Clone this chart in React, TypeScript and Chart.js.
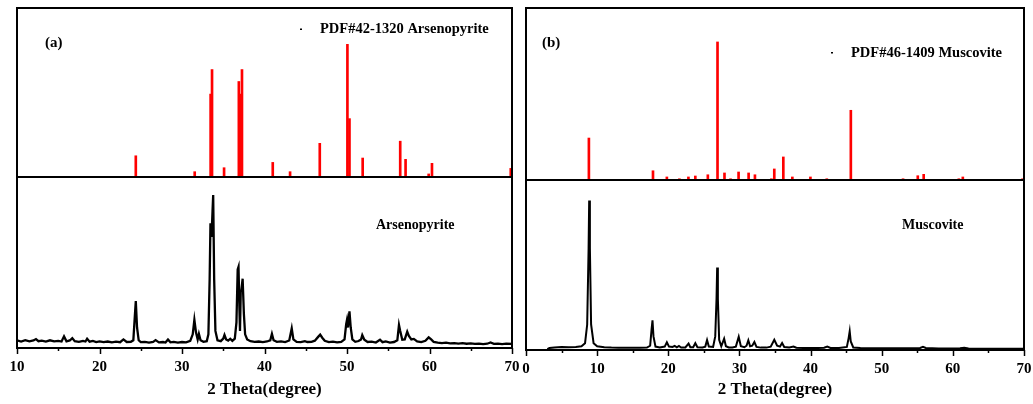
import React, { useEffect, useRef } from "react";
import { Chart, registerables } from "chart.js";
Chart.register(...registerables);

const FONT = '"Liberation Serif", "Times New Roman", serif';

// ---------- Panel (a): Arsenopyrite ----------
const arsenoPdfAngles = [24.4, 31.54, 33.47, 33.64, 35.1, 36.89, 37.1, 37.27, 41.0, 43.1, 46.7, 50.05, 50.3, 51.9, 56.45, 57.1, 59.9, 60.3, 69.85];
const arsenoPdfIntensity = [16, 4, 62.5, 81, 7, 72, 62.5, 81, 11, 4, 25.4, 100, 44, 14.3, 27, 13.3, 2.3, 10.3, 6.5];

const arsenoAngles = [
  10.0, 10.5, 11.0, 11.5, 12.0, 12.3, 12.6, 13.0, 13.5, 14.0, 14.5, 15.0, 15.4, 15.7, 16.0, 16.4, 16.7, 17.0, 17.5, 18.0,
  18.3, 18.5, 18.8, 19.2, 19.6, 20.0, 20.5, 21.0, 21.5, 22.0, 22.5, 22.9, 23.3, 23.8, 24.1, 24.3, 24.4, 24.55, 24.75, 25.0,
  25.5, 26.0, 26.5, 26.8, 27.2, 27.7, 28.0, 28.3, 28.6, 29.0, 29.5, 30.0, 30.5, 31.0, 31.3, 31.5, 31.7, 31.9, 32.05, 32.25,
  32.6, 33.0, 33.2, 33.35, 33.45, 33.58, 33.7, 33.78, 33.9, 34.05, 34.3, 34.7, 35.0, 35.15, 35.35, 35.6, 35.85, 36.1, 36.4, 36.6,
  36.75, 36.85, 36.95, 37.03, 37.12, 37.2, 37.35, 37.5, 37.65, 37.9, 38.3, 38.8, 39.3, 39.8, 40.3, 40.7, 40.9, 41.1, 41.5, 42.0,
  42.5, 43.0, 43.3, 43.5, 43.9, 44.4, 44.9, 45.2, 45.7, 46.1, 46.5, 46.75, 47.0, 47.3, 47.8, 48.3, 48.8, 49.3, 49.7, 49.9,
  50.0, 50.12, 50.3, 50.45, 50.65, 51.0, 51.4, 51.7, 51.85, 52.1, 52.5, 53.0, 53.5, 54.0, 54.3, 54.7, 55.2, 55.7, 56.1, 56.3,
  56.45, 56.7, 57.0, 57.3, 57.5, 57.8, 58.1, 58.5, 59.0, 59.5, 59.9, 60.2, 60.5, 61.0, 61.5, 62.0, 62.5, 63.0, 63.5, 64.0,
  64.5, 65.0, 65.5, 66.0, 66.5, 67.0, 67.4, 67.8, 68.3, 68.8, 69.3, 70.0,
];
const arsenoIntensity = [
  4.5, 3.8, 4.6, 3.9, 4.4, 5.2, 4.0, 4.3, 3.7, 4.5, 3.9, 4.2, 3.8, 6.8, 3.9, 4.4, 5.8, 4.0, 3.6, 4.2,
  3.8, 5.4, 3.7, 4.1, 3.5, 3.9, 3.4, 3.8, 3.3, 3.7, 3.4, 5.0, 3.5, 3.6, 4.5, 20, 27.5, 12, 4.5, 3.4,
  3.6, 3.2, 3.6, 4.6, 3.3, 3.5, 3.2, 5.0, 3.3, 3.6, 3.2, 3.5, 3.3, 4.2, 8, 16.5, 9, 5, 8.2, 4.5,
  3.6, 4.0, 8, 40, 73, 65, 80, 89.5, 40, 10, 4.5, 4.0, 5.5, 7.6, 5.0, 4.3, 5.4, 4.2, 5.5, 15,
  46, 47.5, 25, 10, 33, 34, 40.5, 20, 8, 5, 4.0, 3.6, 3.8, 3.4, 3.8, 4.5, 8.3, 4.5, 3.6, 3.9,
  3.5, 4.4, 11.5, 5, 3.6, 3.4, 4.0, 3.5, 3.6, 4.3, 6.5, 7.8, 6.0, 4.2, 3.4, 3.7, 3.3, 3.6, 5, 14,
  16.5, 12, 21.5, 12, 5, 3.6, 4.1, 5, 7.5, 4.8, 3.5, 3.7, 3.2, 4.8, 3.4, 3.9, 3.2, 3.5, 4.5, 13.5,
  10, 4.8, 5.0, 9.5, 7, 5, 5.3, 3.8, 3.4, 4.2, 6.2, 5.0, 3.6, 3.2, 2.9, 3.1, 2.7, 2.9, 2.6, 2.8,
  2.5, 2.7, 2.4, 2.6, 2.3, 2.5, 3.2, 2.4, 2.6, 2.3, 2.5, 2.4,
];

// ---------- Panel (b): Muscovite ----------
const muscoPdfAngles = [8.84, 17.85, 19.8, 21.56, 22.83, 23.8, 25.56, 26.92, 27.9, 28.75, 29.88, 31.29, 32.18, 34.49, 34.9, 36.17, 37.44, 39.98, 42.28, 45.66, 53.0, 55.07, 55.9, 60.84, 61.4, 69.8];
const muscoPdfIntensity = [30.4, 6.7, 2.2, 0.9, 2.2, 2.9, 3.8, 100, 5.1, 0.9, 5.8, 5.1, 3.8, 0.9, 8, 16.7, 2.2, 2.2, 0.9, 50.5, 0.9, 3.1, 4.1, 0.9, 2.2, 0.9];

const muscoAngles = [
  3.0, 3.3, 4.0, 5.0, 6.0, 7.0, 7.8, 8.3, 8.6, 8.8, 8.88, 8.98, 9.15, 9.5, 10.0, 11.0, 12.0, 13.0, 14.0, 15.0,
  16.0, 17.0, 17.45, 17.65, 17.78, 17.92, 18.2, 18.8, 19.5, 19.8, 20.1, 20.6, 20.9, 21.2, 21.5, 21.8, 22.4, 22.85, 23.1, 23.5,
  23.8, 24.1, 24.8, 25.2, 25.45, 25.7, 26.3, 26.6, 26.78, 26.87, 26.97, 27.15, 27.45, 27.85, 28.1, 28.5, 29.0, 29.5, 29.9, 30.2,
  30.7, 31.0, 31.25, 31.5, 31.8, 32.1, 32.4, 33.0, 33.8, 34.4, 34.9, 35.3, 35.7, 36.0, 36.3, 37.0, 37.6, 38.0, 39.0, 40.0,
  41.0, 41.9, 42.35, 42.8, 44.0, 45.1, 45.35, 45.5, 45.65, 46.0, 47.0, 48.0, 50.0, 52.0, 54.0, 55.4, 55.8, 56.2, 58.0, 60.0,
  61.0, 61.6, 62.2, 64.0, 66.0, 68.0, 70.0,
];
const muscoIntensity = [
  0.5, 1.2, 1.5, 1.7, 1.6, 1.8, 2.2, 4, 15, 60, 88, 60, 15, 4, 2.2, 1.6, 1.4, 1.3, 1.3, 1.3,
  1.3, 1.4, 2.5, 12, 17.5, 8, 2, 1.5, 2, 4.5, 2, 1.8, 2.4, 1.6, 2.4, 1.5, 1.5, 3.8, 1.6, 1.6,
  4.0, 1.6, 1.5, 2, 5.8, 2, 1.8, 8, 30, 48.5, 30, 6, 2.2, 6.7, 2.2, 1.5, 1.5, 2, 7.8, 2.2,
  1.6, 2.5, 5.7, 2.2, 2.5, 4.7, 1.8, 1.4, 1.4, 2.0, 6.0, 2.6, 2.0, 4.1, 1.8, 1.5, 2.0, 1.3, 1.2, 1.2,
  1.2, 1.3, 2.0, 1.2, 1.2, 1.8, 7, 11, 5, 1.5, 1.2, 1.1, 1.0, 1.0, 1.0, 1.2, 1.9, 1.2, 0.9, 0.9,
  1.1, 1.3, 0.9, 0.8, 0.8, 0.8, 0.8,
];

type TextItem = { text: string; x: number; y: number; size: number };

const decorPlugin = {
  id: "decor",
  afterDraw(chart: any, _args: any, opts: any) {
    const ctx = chart.ctx;
    const { left, right, top, bottom } = chart.chartArea;
    ctx.save();
    ctx.strokeStyle = "#000";
    ctx.lineWidth = 2;
    ctx.strokeRect(left, top, right - left, bottom - top);
    if (opts.ticks) {
      const xs = chart.scales.x;
      ctx.lineWidth = 1.5;
      xs.ticks.forEach((t: any) => {
        const px = Math.round(xs.getPixelForValue(t.value)) + 0.5;
        const len = t.value % 10 === 0 ? 6 : 3;
        ctx.beginPath();
        ctx.moveTo(px, bottom);
        ctx.lineTo(px, bottom + len);
        ctx.stroke();
      });
    }
    if (opts.marker) {
      ctx.fillStyle = "#000";
      ctx.fillRect(opts.marker.x, opts.marker.y, 2, 1.5);
    }
    (opts.texts || []).forEach((t: TextItem) => {
      ctx.fillStyle = "#000";
      ctx.font = `bold ${t.size}px ${FONT}`;
      ctx.textAlign = "left";
      ctx.textBaseline = "middle";
      ctx.fillText(t.text, t.x, t.y);
    });
    ctx.restore();
  },
};

function topConfig(angles: number[], intens: number[], xMin: number, xMax: number, yMax: number, padding: any, decor: any) {
  return {
    type: "bar",
    data: {
      datasets: [
        {
          data: angles.map((a, i) => ({ x: a, y: intens[i] })),
          backgroundColor: "#ff0000",
          borderWidth: 0,
          barThickness: 2,
        },
      ],
    },
    options: {
      animation: false,
      responsive: false,
      layout: { padding },
      scales: {
        x: { type: "linear", min: xMin, max: xMax, display: false, offset: false },
        y: { min: 0, max: yMax, display: false },
      },
      plugins: { legend: { display: false }, tooltip: { enabled: false }, decor },
    },
    plugins: [decorPlugin],
  };
}

function bottomConfig(angles: number[], intens: number[], xMin: number, xMax: number, axisHeight: number, padding: any, lineWidth: number, decor: any) {
  return {
    type: "line",
    data: {
      datasets: [
        {
          data: angles.map((a, i) => ({ x: a, y: intens[i] })),
          borderColor: "#000",
          borderWidth: lineWidth,
          pointRadius: 0,
          tension: 0,
          fill: false,
        },
      ],
    },
    options: {
      animation: false,
      responsive: false,
      layout: { padding },
      scales: {
        x: {
          type: "linear",
          min: xMin,
          max: xMax,
          offset: false,
          grid: { display: false, drawTicks: false },
          border: { display: false },
          ticks: {
            stepSize: 5,
            autoSkip: false,
            maxRotation: 0,
            padding: 10,
            color: "#000",
            font: { family: FONT, size: 15, weight: "bold" },
            callback: (v: number) => (v % 10 === 0 ? String(v) : ""),
          },
          title: {
            display: true,
            text: "2 Theta(degree)",
            color: "#000",
            font: { family: FONT, size: 17, weight: "bold" },
            padding: { top: 0, bottom: 4 },
          },
          afterFit: (s: any) => {
            s.height = axisHeight;
            s.paddingLeft = 0;
            s.paddingRight = 0;
          },
        },
        y: { min: 0, max: 100, display: false },
      },
      plugins: { legend: { display: false }, tooltip: { enabled: false }, decor },
    },
    plugins: [decorPlugin],
  };
}

function ChartBox({ left, top, width, height, make }: { left: number; top: number; width: number; height: number; make: () => any }) {
  const ref = useRef<HTMLCanvasElement | null>(null);
  useEffect(() => {
    if (!ref.current) return;
    const chart = new Chart(ref.current, make());
    return () => chart.destroy();
  }, []);
  return (
    <canvas
      ref={ref}
      width={width}
      height={height}
      style={{ position: "absolute", left, top, width, height }}
    />
  );
}

export default function App() {
  return (
    <div style={{ position: "absolute", left: 0, top: 0, width: 1033, height: 404, background: "#fff", overflow: "hidden" }}>
      <ChartBox
        left={0}
        top={0}
        width={520}
        height={185}
        make={() =>
          topConfig(arsenoPdfAngles, arsenoPdfIntensity, 10, 70, 127.4, { left: 17, right: 8, top: 8, bottom: 8 }, {
            texts: [
              { text: "(a)", x: 45, y: 43, size: 15 },
              { text: "PDF#42-1320 Arsenopyrite", x: 320, y: 29, size: 14.5 },
            ],
            marker: { x: 300, y: 28.5 },
          })
        }
      />
      <ChartBox
        left={0}
        top={170}
        width={520}
        height={234}
        make={() =>
          bottomConfig(arsenoAngles, arsenoIntensity, 10, 70, 56, { left: 17, right: 8, top: 7, bottom: 0 }, 2.3, {
            ticks: true,
            texts: [{ text: "Arsenopyrite", x: 376, y: 55, size: 14 }],
          })
        }
      />
      <ChartBox
        left={516}
        top={0}
        width={517}
        height={188}
        make={() =>
          topConfig(muscoPdfAngles, muscoPdfIntensity, 0, 70, 124.6, { left: 10, right: 9, top: 8, bottom: 8 }, {
            texts: [
              { text: "(b)", x: 26, y: 43, size: 15 },
              { text: "PDF#46-1409 Muscovite", x: 335, y: 53, size: 14.5 },
            ],
            marker: { x: 315, y: 52 },
          })
        }
      />
      <ChartBox
        left={516}
        top={172}
        width={517}
        height={232}
        make={() =>
          bottomConfig(muscoAngles, muscoIntensity, 0, 70, 54, { left: 10, right: 9, top: 8, bottom: 0 }, 2, {
            ticks: true,
            texts: [{ text: "Muscovite", x: 386, y: 53, size: 14 }],
          })
        }
      />
    </div>
  );
}
